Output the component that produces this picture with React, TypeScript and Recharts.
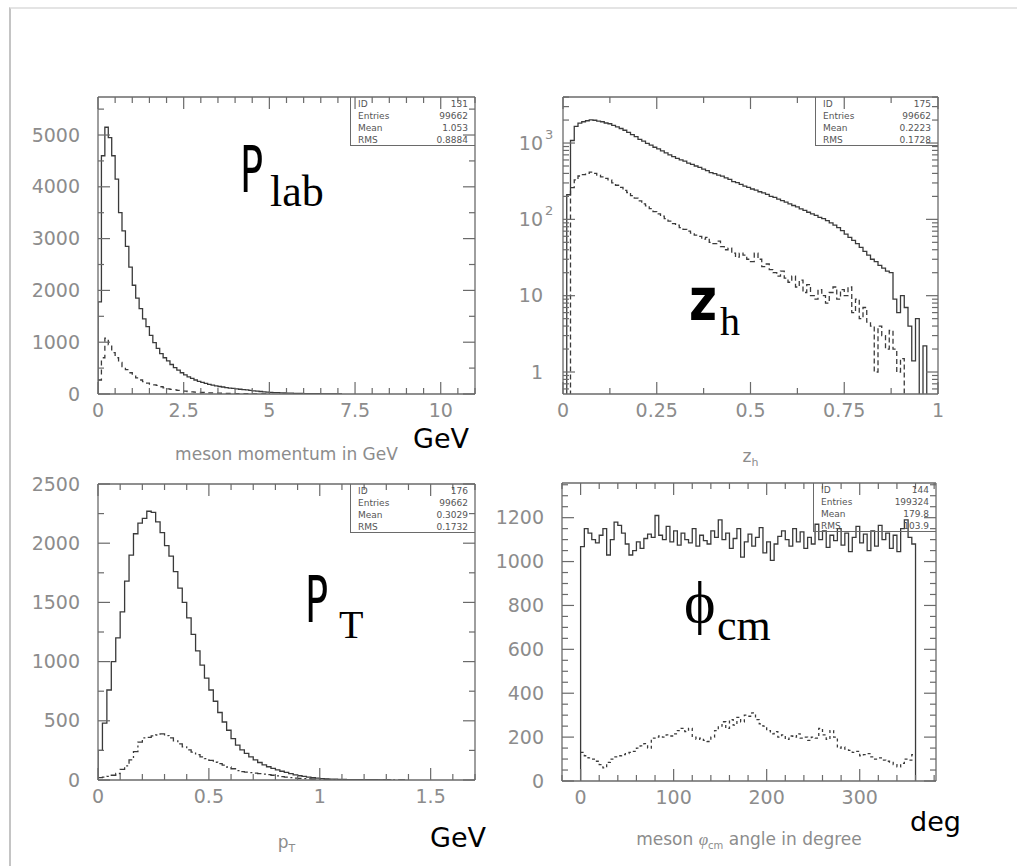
import React from 'react';
import { Label, Line, LineChart, XAxis, YAxis } from 'recharts';

// ---- P_lab : meson momentum, 0.1 GeV bins from 0
const plabBin = 0.1;
const plabAll = [1780, 4600, 5150, 4950, 4600, 4150, 3500, 3150, 2850, 2450, 2100, 1850, 1650, 1450, 1300, 1130, 990, 880, 780, 700, 640, 570, 510, 460, 410, 370, 330, 300, 270, 245, 225, 205, 185, 170, 155, 145, 135, 125, 115, 108, 100, 92, 85, 78, 70, 62, 55, 48, 42, 37, 32, 28, 25, 22, 19, 17, 15, 13, 11, 10, 9, 8, 7, 6, 5, 4, 4, 3, 3, 2, 2];
const plabSub = [270, 700, 1080, 950, 800, 700, 610, 530, 470, 410, 360, 310, 270, 240, 210, 190, 175, 165, 140, 120, 100, 90, 80, 70, 62, 55, 48, 42, 37, 33, 29, 26, 23, 20, 18, 16, 14, 12, 11, 10, 9, 8, 7, 6, 5, 4, 3, 3, 2, 2];
const plabXLabels = [0, 2.5, 5, 7.5, 10];
const plabYLabels = [0, 1000, 2000, 3000, 4000, 5000];
const plabStats = [['ID', '131'], ['Entries', '99662'], ['Mean', '1.053'], ['RMS', '0.8884']];

// ---- z_h, 0.01 bins from 0 (log scale)
const zhBin = 0.01;
const zhAll = [0.3, 210, 1080, 1650, 1820, 1900, 1960, 2010, 1990, 1940,
  1900, 1830, 1790, 1700, 1630, 1550, 1470, 1380, 1290, 1210,
  1120, 1060, 990, 940, 880, 840, 790, 745, 700, 665,
  630, 600, 580, 545, 525, 500, 480, 455, 435, 410,
  398, 380, 368, 350, 335, 312, 302, 288, 272, 262,
  250, 242, 230, 222, 212, 200, 194, 184, 176, 168,
  160, 152, 146, 137, 131, 124, 118, 113, 106, 102,
  96, 90, 84, 78, 71, 64, 58, 53, 48, 43,
  38, 34, 30, 28, 25, 23, 21, 20, 9, 6,
  10, 7, 4, 1.4, 5, 0.3, 2.2, 0.3];
const zhSub = [0.3, 0.3, 260, 330, 370, 385, 400, 415, 400, 380,
  360, 345, 330, 300, 280, 262, 240, 225, 205, 190,
  175, 160, 150, 138, 126, 118, 110, 102, 95, 88,
  84, 78, 74, 70, 66, 62, 60, 55, 58, 50,
  48, 52, 44, 40, 42, 36, 32, 36, 34, 30,
  28, 36, 30, 24, 26, 22, 20, 18, 21, 17,
  15, 18, 13, 16, 11, 14, 10, 9, 12, 10,
  8, 11, 13, 9, 12, 10, 13, 6, 9, 5,
  7, 4.5, 4, 1, 4, 3, 2, 3.5, 2, 1,
  1.5, 0.3];
const zhXLabels = [0, 0.25, 0.5, 0.75, 1];
const zhYLabels = [1, 10, 100, 1000];
const zhStats = [['ID', '175'], ['Entries', '99662'], ['Mean', '0.2223'], ['RMS', '0.1728']];

// ---- p_T, 0.02 GeV bins from 0
const ptBin = 0.02;
const ptAll = [250, 480, 760, 1000, 1200, 1420, 1680, 1900, 2080, 2170, 2210, 2270, 2260, 2180, 2090, 1980, 1890, 1760, 1620, 1500, 1370, 1230, 1090, 970, 860, 760, 665, 570, 490, 420, 350, 295, 255, 225, 195, 170, 148, 128, 112, 98, 86, 74, 64, 54, 44, 36, 30, 24, 19, 15, 12, 10, 8, 7, 6, 5, 4, 4, 3, 3, 2, 2, 2, 1, 1, 1];
const ptSub = [20, 25, 30, 40, 55, 90, 120, 170, 240, 320, 355, 360, 372, 380, 390, 375, 355, 330, 305, 280, 255, 235, 215, 195, 180, 165, 150, 138, 125, 110, 95, 80, 70, 66, 62, 58, 54, 50, 45, 40, 34, 28, 24, 20, 16, 13, 11, 9, 8, 7, 6, 5, 5, 4, 4, 3, 3, 3, 2, 2, 2, 2, 1, 1, 1, 1, 1, 1, 1, 1];
const ptXLabels = [0, 0.5, 1, 1.5];
const ptYLabels = [0, 500, 1000, 1500, 2000, 2500];
const ptStats = [['ID', '176'], ['Entries', '99662'], ['Mean', '0.3029'], ['RMS', '0.1732']];

// ---- phi_cm, 4 degree bins from 0
const phiBin = 4;
const phiAll = [1068, 1150, 1130, 1100, 1085, 1120, 1150, 1030, 1100, 1180,
  1165, 1130, 1080, 1030, 1050, 1090, 1060, 1105, 1125, 1110,
  1210, 1120, 1100, 1160, 1090, 1140, 1075, 1130, 1100, 1085,
  1150, 1070, 1120, 1095, 1080, 1140, 1110, 1190, 1100, 1130,
  1060, 1105, 1150, 1020, 1090, 1125, 1070, 1110, 1155, 1040,
  1090, 1005, 1080, 1115, 1140, 1100, 1070, 1150, 1090, 1135,
  1060, 1110, 1080, 1170, 1100, 1140, 1065, 1120, 1095, 1150,
  1075, 1130, 1045, 1110, 1160, 1085, 1125, 1050, 1140, 1070,
  1165, 1100, 1130, 1060, 1120, 1045, 1150, 1190, 1110, 1080];
const phiSub = [130, 115, 105, 100, 90, 75, 60, 85, 100, 110,
  115, 120, 125, 130, 135, 150, 160, 170, 150, 195,
  200, 205, 200, 210, 205, 215, 230, 240, 225, 240,
  200, 190, 195, 185, 180, 200, 230, 250, 270, 240,
  280, 255, 290, 270, 300, 295, 310, 280, 260, 250,
  230, 215, 225, 200, 210, 190, 205, 200, 215, 195,
  200, 185, 200, 195, 240, 210, 190, 230, 200, 150,
  155, 145, 140, 130, 135, 115, 120, 125, 110, 100,
  105, 95, 90, 85, 75, 65, 80, 100, 95, 120];
const phiXLabels = [0, 100, 200, 300];
const phiYLabels = [0, 200, 400, 600, 800, 1000, 1200];
const phiStats = [['ID', '144'], ['Entries', '199324'], ['Mean', '179.8'], ['RMS', '103.9']];

const SANS = '"DejaVu Sans", sans-serif';
const SERIF = '"Liberation Serif", "DejaVu Serif", serif';
const AXIS = '#6a6a6a';
const LABEL = '#8c8c8c';
const INK = '#3a3a3a';

type Row = { x: number; y: number };

// histogram outline: bin lower edges + closing upper edge (optionally dropping to a floor)
const histRows = (width: number, counts: number[], floor?: number): Row[] => {
  const rows: Row[] = counts.map((v, i) => ({ x: +(i * width).toFixed(4), y: v }));
  const end = +(counts.length * width).toFixed(4);
  rows.push({ x: end, y: counts[counts.length - 1] });
  if (floor !== undefined) {
    rows.unshift({ x: 0, y: floor });
    rows.push({ x: end, y: floor });
  }
  return rows;
};

const steps = (from: number, to: number, step: number) => {
  const out: number[] = [];
  for (let v = from; v <= to + 1e-9; v += step) out.push(+v.toFixed(6));
  return out;
};

const logTicks = [0.1, 1, 10, 100, 1000]
  .flatMap((d) => [1, 2, 3, 4, 5, 6, 7, 8, 9].map((k) => +(k * d).toFixed(4)))
  .filter((v) => v >= 0.52 && v <= 4000);

type Side = 'bottom' | 'top' | 'left' | 'right';
const isIn = (v: number, list: number[]) => list.some((m) => Math.abs(m - v) < 1e-6);

const logText = (v: number) => (v >= 100 ? ['10', String(Math.round(Math.log10(v)))] : [String(v), '']);

const makeTick = (side: Side, majors: number[], labelled: boolean, log = false) =>
  function TickMark(props: any) {
    const { x, y, payload } = props;
    const v = payload.value as number;
    const major = isIn(v, majors);
    const len = major ? 12 : 6;
    const dx = side === 'left' ? len : side === 'right' ? -len : 0;
    const dy = side === 'bottom' ? -len : side === 'top' ? len : 0;
    let label: React.ReactNode = null;
    if (labelled && major) {
      const common = { fill: LABEL, fontSize: 19, fontFamily: SANS };
      if (side === 'bottom') {
        label = (
          <text x={x} y={y + 23} textAnchor="middle" {...common}>
            {String(v)}
          </text>
        );
      } else if (log) {
        const [base, exp] = logText(v);
        label = (
          <g>
            <text x={x - 20} y={y} dy="0.35em" textAnchor="end" {...common}>
              {base}
            </text>
            {exp && (
              <text x={x - 18} y={y - 4} textAnchor="start" {...common} fontSize={13}>
                {exp}
              </text>
            )}
          </g>
        );
      } else {
        label = (
          <text x={x - 18} y={y} dy="0.35em" textAnchor="end" {...common}>
            {String(v)}
          </text>
        );
      }
    }
    return (
      <g>
        <line x1={x} y1={y} x2={x + dx} y2={y + dy} stroke={AXIS} strokeWidth={1.2} />
        {label}
      </g>
    );
  };

const axisTitle = (content: React.ReactNode, below: number) =>
  function AxisTitle(props: any) {
    const vb = props.viewBox || {};
    return (
      <text x={vb.x + vb.width / 2} y={vb.y + below} textAnchor="middle" fill={LABEL} fontSize={17} fontFamily={SANS}>
        {content}
      </text>
    );
  };

type Series = { rows: Row[]; dash?: string };

type PanelProps = {
  left: number;
  top: number;
  width: number;
  height: number;
  margin: { top: number; right: number; left: number; bottom: number };
  yWidth: number;
  xHeight: number;
  xDomain: [number, number];
  yDomain: [number, number];
  xTicks: number[];
  xMajors: number[];
  yTicks: number[];
  yMajors: number[];
  log?: boolean;
  series: Series[];
  title: React.ReactNode;
  titleBelow: number;
};

const axisLine = { stroke: AXIS, strokeWidth: 1.3 };

function Panel(p: PanelProps) {
  return (
    <div style={{ position: 'absolute', left: p.left, top: p.top }}>
      <LineChart width={p.width} height={p.height} margin={p.margin}>
        <XAxis
          xAxisId="b"
          type="number"
          dataKey="x"
          domain={p.xDomain}
          allowDataOverflow
          ticks={p.xTicks}
          interval={0}
          height={p.xHeight}
          tickSize={0}
          tickMargin={0}
          tickLine={false}
          axisLine={axisLine}
          tick={makeTick('bottom', p.xMajors, true)}
        >
          <Label content={axisTitle(p.title, p.titleBelow)} />
        </XAxis>
        <XAxis
          xAxisId="t"
          orientation="top"
          mirror
          type="number"
          dataKey="x"
          domain={p.xDomain}
          allowDataOverflow
          ticks={p.xTicks}
          interval={0}
          height={1}
          tickSize={0}
          tickMargin={0}
          tickLine={false}
          axisLine={axisLine}
          tick={makeTick('top', p.xMajors, false)}
        />
        <YAxis
          yAxisId="l"
          type="number"
          scale={p.log ? 'log' : 'auto'}
          domain={p.yDomain}
          allowDataOverflow
          ticks={p.yTicks}
          interval={0}
          width={p.yWidth}
          tickSize={0}
          tickMargin={0}
          tickLine={false}
          axisLine={axisLine}
          tick={makeTick('left', p.yMajors, true, p.log)}
        />
        <YAxis
          yAxisId="r"
          orientation="right"
          mirror
          type="number"
          scale={p.log ? 'log' : 'auto'}
          domain={p.yDomain}
          allowDataOverflow
          ticks={p.yTicks}
          interval={0}
          width={1}
          tickSize={0}
          tickMargin={0}
          tickLine={false}
          axisLine={axisLine}
          tick={makeTick('right', p.yMajors, false)}
        />
        {p.series.map((s, i) => (
          <Line
            key={i}
            xAxisId="b"
            yAxisId="l"
            data={s.rows}
            dataKey="y"
            type="stepAfter"
            stroke={INK}
            strokeWidth={1.3}
            strokeDasharray={s.dash}
            dot={false}
            activeDot={false}
            isAnimationActive={false}
          />
        ))}
      </LineChart>
    </div>
  );
}

function StatBox({ left, top, width, rows }: { left: number; top: number; width: number; rows: string[][] }) {
  return (
    <div
      style={{
        position: 'absolute',
        left,
        top,
        width,
        height: 49,
        boxSizing: 'border-box',
        borderLeft: `1.3px solid ${AXIS}`,
        borderBottom: `1.3px solid ${AXIS}`,
        padding: '1px 7px 0 7px',
        font: `9px ${SANS}`,
        lineHeight: '12px',
        color: '#555',
      }}
    >
      {rows.map(([k, v]) => (
        <div key={k} style={{ display: 'flex', justifyContent: 'space-between' }}>
          <span>{k}</span>
          <span>{v}</span>
        </div>
      ))}
    </div>
  );
}

export default function App() {
  return (
    <div style={{ position: 'absolute', left: 0, top: 0, width: 1017, height: 866, background: '#fff', overflow: 'hidden' }}>
      <div
        style={{
          position: 'absolute',
          left: 9,
          top: 7,
          width: 1020,
          height: 870,
          borderLeft: '2px solid #c4c4c4',
          borderTop: '2px solid #e4e4e4',
        }}
      />

      <Panel
        left={0}
        top={60}
        width={500}
        height={410}
        margin={{ top: 37, right: 25, left: 0, bottom: 0 }}
        yWidth={98}
        xHeight={76}
        xDomain={[0, 11]}
        yDomain={[0, 5734]}
        xTicks={steps(0, 11, 0.5)}
        xMajors={plabXLabels}
        yTicks={steps(0, 5500, 500)}
        yMajors={plabYLabels}
        series={[{ rows: histRows(plabBin, plabAll, 0) }, { rows: histRows(plabBin, plabSub), dash: '5 4' }]}
        title="meson momentum in GeV"
        titleBelow={66}
      />
      <Panel
        left={470}
        top={60}
        width={547}
        height={410}
        margin={{ top: 37, right: 79, left: 0, bottom: 0 }}
        yWidth={93}
        xHeight={76}
        xDomain={[0, 1]}
        yDomain={[0.515, 4010]}
        xTicks={steps(0, 1, 0.125)}
        xMajors={zhXLabels}
        yTicks={logTicks}
        yMajors={zhYLabels}
        log
        series={[{ rows: histRows(zhBin, zhAll, 0.3) }, { rows: histRows(zhBin, zhSub), dash: '5 3' }]}
        title={
          <>
            <tspan>z</tspan>
            <tspan fontSize={11} dy={4}>h</tspan>
          </>
        }
        titleBelow={68}
      />
      <Panel
        left={0}
        top={460}
        width={500}
        height={406}
        margin={{ top: 24, right: 25, left: 0, bottom: 0 }}
        yWidth={98}
        xHeight={86}
        xDomain={[0, 1.7]}
        yDomain={[0, 2500]}
        xTicks={steps(0, 1.7, 0.1)}
        xMajors={ptXLabels}
        yTicks={steps(0, 2500, 250)}
        yMajors={ptYLabels}
        series={[{ rows: histRows(ptBin, ptAll, 0) }, { rows: histRows(ptBin, ptSub), dash: '7 3 2 3' }]}
        title={
          <>
            <tspan>p</tspan>
            <tspan fontSize={11} dy={4}>T</tspan>
          </>
        }
        titleBelow={68}
      />
      <Panel
        left={470}
        top={460}
        width={547}
        height={406}
        margin={{ top: 23, right: 81, left: 0, bottom: 0 }}
        yWidth={92}
        xHeight={85}
        xDomain={[-20, 382]}
        yDomain={[0, 1358]}
        xTicks={steps(-20, 380, 20)}
        xMajors={phiXLabels}
        yTicks={steps(0, 1350, 50)}
        yMajors={phiYLabels}
        series={[{ rows: histRows(phiBin, phiAll, 0) }, { rows: histRows(phiBin, phiSub), dash: '3 3' }]}
        title={
          <>
            <tspan>meson </tspan>
            <tspan fontFamily={SERIF} fontStyle="italic">φ</tspan>
            <tspan fontSize={10} dy={4}>cm</tspan>
            <tspan dy={-4}> angle in degree</tspan>
          </>
        }
        titleBelow={64}
      />

      <StatBox left={350} top={97} width={125} rows={plabStats} />
      <StatBox left={815} top={97} width={123} rows={zhStats} />
      <StatBox left={350} top={484} width={125} rows={ptStats} />
      <StatBox left={813} top={483} width={123} rows={phiStats} />

      <svg width={1017} height={866} style={{ position: 'absolute', left: 0, top: 0, pointerEvents: 'none' }}>
        <text transform="translate(240 192) scale(0.6 1)" fontFamily={SANS} fontSize={64}>P</text>
        <text x={270} y={206} fontFamily={SERIF} fontSize={44}>lab</text>
        <text transform="translate(689 320) scale(0.83 1)" fontFamily={SANS} fontWeight="bold" fontSize={58}>z</text>
        <text x={720} y={335} fontFamily={SERIF} fontSize={40}>h</text>
        <text transform="translate(305 622) scale(0.6 1)" fontFamily={SANS} fontSize={64}>P</text>
        <text x={339} y={638} fontFamily={SERIF} fontSize={40}>T</text>
        <text x={684} y={622} fontFamily={SERIF} fontSize={60}>ϕ</text>
        <text x={717} y={640} fontFamily={SERIF} fontSize={44}>cm</text>
        <text x={413} y={448} fontFamily={SANS} fontSize={27}>GeV</text>
        <text x={430} y={847} fontFamily={SANS} fontSize={27}>GeV</text>
        <text x={910} y={831} fontFamily={SANS} fontSize={27}>deg</text>
      </svg>
    </div>
  );
}
